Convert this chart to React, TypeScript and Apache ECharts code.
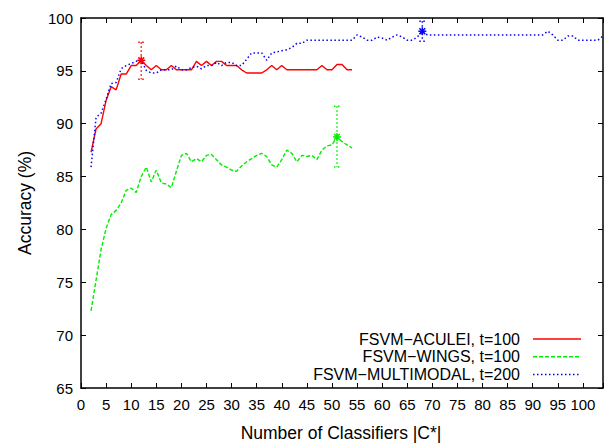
import React, { useEffect, useRef } from "react";
import * as echarts from "echarts";

const seriesNames = ["FSVM\u2212ACULEI, t=100", "FSVM\u2212WINGS, t=100", "FSVM\u2212MULTIMODAL, t=200"];
const seriesColors = ["#ff0000", "#00ee00", "#0000ff"];

const xShort = [2,3,4,5,6,7,8,9,10,11,12,13,14,15,16,17,18,19,20,21,22,23,24,25,26,27,28,29,30,31,32,33,34,35,36,37,38,39,40,41,42,43,44,45,46,47,48,49,50,51,52,53,54];
const aculei = [87.3,89.5,90.0,92.2,93.5,93.2,94.7,94.7,95.5,95.5,96.0,95.5,95.1,95.5,95.1,95.1,95.5,95.1,95.1,95.1,95.1,95.9,95.5,95.9,95.5,95.9,95.9,95.5,95.5,95.5,95.1,94.8,94.8,94.8,94.8,95.1,95.5,95.1,95.5,95.1,95.1,95.1,95.1,95.1,95.1,95.1,95.5,95.1,95.1,95.6,95.6,95.1,95.1];
const wings = [72.3,75.2,78.1,80.1,81.4,81.8,82.5,83.7,83.9,83.5,85.0,85.9,84.5,85.6,84.4,84.3,83.95,85.5,87.0,87.2,86.4,86.7,86.4,87.0,87.1,86.6,86.1,85.9,85.6,85.5,86.0,86.4,86.7,87.0,87.2,86.9,86.1,85.9,86.6,87.5,87.2,86.4,87.0,86.9,87.0,86.6,87.5,87.9,88.0,88.75,88.3,88.0,87.7];

const xLong = [2,3,4,5,6,7,8,9,10,11,12,13,14,15,16,17,18,19,20,21,22,23,24,25,26,27,28,29,30,31,32,33,34,35,36,37,38,39,40,41,42,43,44,45,46,47,48,49,50,51,52,53,54,55,56,57,58,59,60,61,62,63,64,65,66,67,68,69,70,71,72,73,74,75,76,77,78,79,80,81,82,83,84,85,86,87,88,89,90,91,92,93,94,95,96,97,98,99,100,101,102,103,104];
const multimodal = [85.9,90.6,91.0,92.3,93.8,93.9,95.2,95.5,95.7,95.9,96.0,95.05,94.8,94.8,95.1,95.1,95.1,95.45,95.1,95.1,95.3,95.45,95.2,95.5,95.5,95.8,95.5,95.8,95.8,95.5,95.5,96.1,96.7,96.7,96.7,96.0,96.7,96.8,96.9,97.0,97.2,97.6,97.6,97.9,97.9,97.9,97.9,97.9,97.9,97.9,97.9,97.9,97.9,98.4,98.2,97.9,97.9,98.2,98.1,97.9,98.2,98.4,98.2,97.9,97.9,98.2,98.75,98.4,98.4,98.4,98.4,98.4,98.4,98.4,98.4,98.4,98.4,98.4,98.4,98.4,98.4,98.4,98.4,98.4,98.4,98.4,98.4,98.4,98.4,98.4,98.4,98.75,98.4,97.9,97.9,98.3,98.3,97.9,97.9,97.9,97.9,97.9,98.3];

// error bars: x, mean, low, high, series index
const errX = [12, 51, 68];
const errMean = [96.0, 88.75, 98.75];
const errLow = [94.2, 85.9, 97.8];
const errHigh = [97.7, 91.65, 99.7];
const errSeries = [0, 1, 2];

const xTicks = { min: 0, max: 104, interval: 5 };
const yTicks = { min: 65, max: 100, interval: 5 };

const FONT = "Liberation Sans, Arial, sans-serif";

export default function App() {
  const ref = useRef<HTMLDivElement>(null);
  useEffect(() => {
    if (!ref.current) return;
    const chart = echarts.init(ref.current, undefined, { renderer: "svg" });
    const pair = (xs: number[], ys: number[]) => xs.map((x, i) => [x, ys[i]]);
    const axisCommon = {
      axisLine: { show: true, onZero: false, lineStyle: { color: "#000", width: 1.5 } },
      axisTick: { show: true, inside: true, length: 5, lineStyle: { color: "#000", width: 1 } },
      splitLine: { show: false },
    };
    const errData = errX.map((x, i) => [x, errMean[i], errLow[i], errHigh[i], errSeries[i]]);
    chart.setOption({
      animation: false,
      backgroundColor: "#fff",
      grid: { left: 81, right: 6, top: 18, bottom: 56, containLabel: false },
      xAxis: [
        {
          type: "value", position: "bottom", min: xTicks.min, max: xTicks.max, interval: xTicks.interval,
          ...axisCommon,
          axisLabel: {
            color: "#000", fontSize: 15, fontFamily: FONT, margin: 9,
            formatter: (v: number) => (v % 5 === 0 && v <= 100 ? String(v) : ""),
          },
        },
        {
          type: "value", position: "top", min: xTicks.min, max: xTicks.max, interval: xTicks.interval,
          ...axisCommon, axisLabel: { show: false },
        },
      ],
      yAxis: [
        {
          type: "value", position: "left", min: yTicks.min, max: yTicks.max, interval: yTicks.interval,
          ...axisCommon,
          axisLabel: { color: "#000", fontSize: 15, fontFamily: FONT, margin: 8 },
        },
        {
          type: "value", position: "right", min: yTicks.min, max: yTicks.max, interval: yTicks.interval,
          ...axisCommon, axisLabel: { show: false },
        },
      ],
      series: [
        {
          name: seriesNames[0], type: "line", data: pair(xShort, aculei), symbol: "none",
          lineStyle: { color: seriesColors[0], width: 1.4, type: "solid" },
        },
        {
          name: seriesNames[1], type: "line", data: pair(xShort, wings), symbol: "none",
          lineStyle: { color: seriesColors[1], width: 1.4, type: [4, 2] },
        },
        {
          name: seriesNames[2], type: "line", data: pair(xLong, multimodal), symbol: "none",
          lineStyle: { color: seriesColors[2], width: 1.5, type: [1.5, 2.5] },
        },
        {
          type: "custom",
          data: errData,
          z: 5,
          renderItem: (params: any, api: any) => {
            const x = api.value(0);
            const c = seriesColors[api.value(4)];
            const m = api.coord([x, api.value(1)]);
            const lo = api.coord([x, api.value(2)]);
            const hi = api.coord([x, api.value(3)]);
            const dotted = { stroke: c, lineWidth: 1.5, lineDash: [1.5, 2.5] };
            const solid = { stroke: c, lineWidth: 1.5 };
            const r = 4;
            const d = 2.9;
            return {
              type: "group",
              children: [
                { type: "line", shape: { x1: hi[0], y1: hi[1], x2: lo[0], y2: lo[1] }, style: dotted },
                { type: "line", shape: { x1: hi[0] - 3, y1: hi[1], x2: hi[0] + 3, y2: hi[1] }, style: dotted },
                { type: "line", shape: { x1: lo[0] - 3, y1: lo[1], x2: lo[0] + 3, y2: lo[1] }, style: dotted },
                { type: "line", shape: { x1: m[0] - r, y1: m[1], x2: m[0] + r, y2: m[1] }, style: solid },
                { type: "line", shape: { x1: m[0], y1: m[1] - r, x2: m[0], y2: m[1] + r }, style: solid },
                { type: "line", shape: { x1: m[0] - d, y1: m[1] - d, x2: m[0] + d, y2: m[1] + d }, style: solid },
                { type: "line", shape: { x1: m[0] - d, y1: m[1] + d, x2: m[0] + d, y2: m[1] - d }, style: solid },
              ],
            };
          },
        },
      ],
      graphic: [
        {
          type: "text", x: 341, y: 433,
          style: { text: "Number of Classifiers |C*|", font: `17.5px ${FONT}`, fill: "#000", textAlign: "center", textVerticalAlign: "middle" },
        },
        {
          type: "text", x: 25, y: 203, rotation: Math.PI / 2,
          style: { text: "Accuracy (%)", font: `17.5px ${FONT}`, fill: "#000", textAlign: "center", textVerticalAlign: "middle" },
        },
        ...seriesNames.flatMap((name, i) => {
          const y = 339 + i * 17.7;
          const styles = [
            { stroke: seriesColors[0], lineWidth: 1.4 },
            { stroke: seriesColors[1], lineWidth: 1.4, lineDash: [4, 2] },
            { stroke: seriesColors[2], lineWidth: 1.5, lineDash: [1.5, 2.5] },
          ];
          return [
            {
              type: "text", x: 520, y,
              style: { text: name, font: `16px ${FONT}`, lineHeight: 16, fill: "#000", textAlign: "right", textVerticalAlign: "middle" },
            },
            { type: "line", shape: { x1: 533, y1: y, x2: 581, y2: y }, style: styles[i] },
          ];
        }),
      ],
    });
    return () => chart.dispose();
  }, []);
  return <div ref={ref} style={{ position: "fixed", left: 0, top: 0, width: 609, height: 444 }} />;
}
